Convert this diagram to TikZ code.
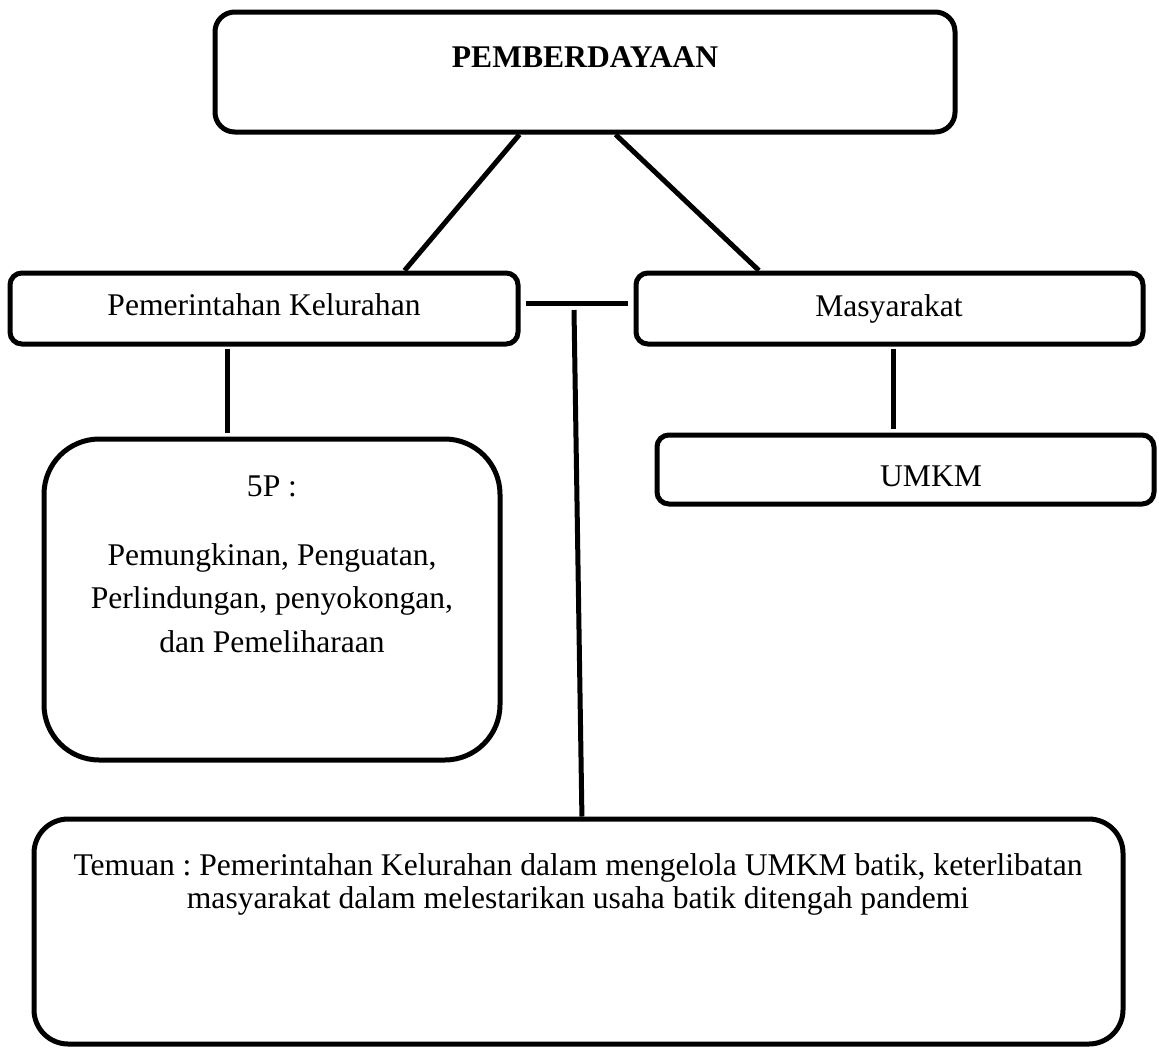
\documentclass[tikz,border=0pt]{standalone}
\usepackage{fontspec}
\setmainfont{Liberation Serif}
\usetikzlibrary{fit,calc}

\tikzset{
    frame/.style={draw, line width=1.9pt, inner sep=0pt},
    link/.style={line width=1.9pt},
}

\begin{document}
\frenchspacing
\begin{tikzpicture}[x=0.38pt,y=-0.38pt,font=\fontsize{12}{16}\selectfont]
    \useasboundingbox (0,0) rectangle (1159,1048);
    \node[frame,rounded corners=7.5pt,fit={(215,12) (955,132)}] (top) {};
    \node[anchor=base,font=\fontsize{12}{16}\selectfont\bfseries] (toptext) at (585,67)
        {PEMBERDAYAAN};
    \node[frame,rounded corners=4.5pt,fit={(10,273) (518,344)}] (pem) {};
    \node[anchor=base] (pemtext) at (264,315) {Pemerintahan Kelurahan};
    \node[frame,rounded corners=4.5pt,fit={(636,273) (1143,344)}] (mas) {};
    \node[anchor=base] (mastext) at (889,316) {Masyarakat};
    \node[frame,rounded corners=4.5pt,fit={(657,435) (1154,504)}] (umkm) {};
    \node[anchor=base] (umkmtext) at (931,486) {UMKM};
    \node[frame,rounded corners=21pt,fit={(44,439) (500,760)}] (p5) {};
    \node[anchor=base] (p5head) at (272,496) {5P :};
    \node[anchor=north,align=center,inner sep=0pt,font=\fontsize{12}{16.5}\selectfont]
        (p5text) at (272,543)
        {Pemungkinan, Penguatan,\\ Perlindungan, penyokongan,\\ dan Pemeliharaan};
    \node[frame,rounded corners=13pt,fit={(34,819) (1123,1044)}] (tem) {};
    \node[anchor=north,align=center,inner sep=0pt,font=\fontsize{12}{12.5}\selectfont]
        (temtext) at (578,853) {Temuan : Pemerintahan Kelurahan dalam mengelola UMKM batik,
        keterlibatan\\ masyarakat dalam melestarikan usaha batik ditengah pandemi};

    \draw[link] ($(top.south west)!0.412!(top.south east)$) --
        ($(pem.north west)!0.774!(pem.north east)$);
    \draw[link] ($(top.south west)!0.541!(top.south east)$) --
        ($(mas.north west)!0.245!(mas.north east)$);
    \draw[link,shorten <=2pt,shorten >=2pt] ([yshift=2pt]pem.east) -- ([yshift=2pt]mas.west);
    \coordinate (hub) at (574,310);
    \draw[link] (hub) -- ([xshift=1.3pt]tem.north);
    \coordinate (pk) at ($(pem.south west)!0.429!(pem.south east)$);
    \draw[link,shorten <=1pt,shorten >=1.5pt] (pk) -- (pk |- p5.north);
    \coordinate (mk) at ([xshift=1.7pt]mas.south);
    \draw[link,shorten <=1pt,shorten >=1.5pt] (mk) -- (mk |- umkm.north);
\end{tikzpicture}
\end{document}
